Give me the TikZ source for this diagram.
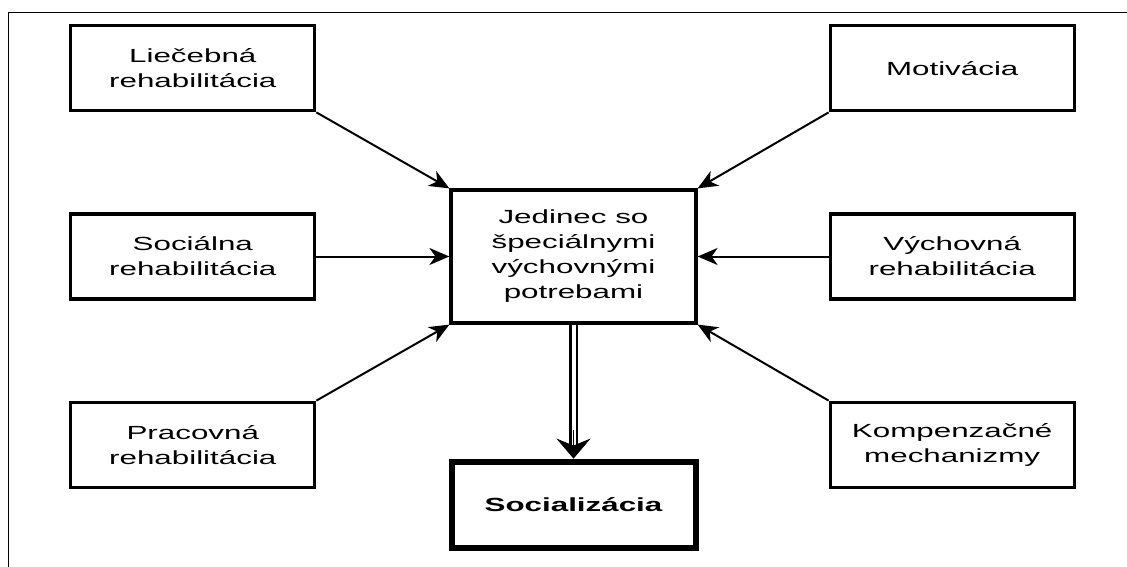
\documentclass[tikz,border=0pt]{standalone}
\usepackage{fontspec}
\setmainfont[FakeStretch=1.65]{Liberation Sans}
\usetikzlibrary{arrows.meta,positioning}

\begin{document}
\begin{tikzpicture}[x=1pt, y=1pt, node distance=133pt, auto,
    box/.style={draw, line width=3.2pt, minimum width=244pt, minimum height=85pt,
        align=center, font=\fontsize{19}{25}\selectfont},
    feed/.style={-{Stealth[length=20pt, width=17pt, inset=6pt]}, line width=2pt}]
    \useasboundingbox (0,0) rectangle (1127,-567);
    \draw[line width=1.4pt] (8.5,-567) -- (8.5,-12.5) -- (1127,-12.5);

    	\node[box, minimum width=245pt, minimum height=133pt] (jedinec) at (573.5,-256.5)
    	    {Jedinec so\\špeciálnymi\\výchovnými\\potrebami};
    	\node[box, left=of jedinec] (socialna) {Sociálna\\rehabilitácia};
    	\node[box, above=100pt of socialna] (liecebna) {Liečebná\\rehabilitácia};
    	\node[box, below=100pt of socialna] (pracovna) {Pracovná\\rehabilitácia};
    	\node[box, right=131pt of jedinec] (vychovna) {Výchovná\\rehabilitácia};
    	\node[box, above=100pt of vychovna] (motivacia) {Motivácia};
    	\node[box, below=100pt of vychovna] (kompenz) {Kompenzačné\\mechanizmy};
    	\node[box, line width=6pt, minimum width=244pt, minimum height=86pt,
    	    below=134pt of jedinec, font=\fontsize{19}{25}\selectfont\bfseries] (soc) {Socializácia};
    	
    	\path [feed]
    		(liecebna.south east) edge (jedinec.north west)
    		(socialna) edge (jedinec)
    		(pracovna.north east) edge (jedinec.south west)
    		(motivacia.south west) edge (jedinec.north east)
    		(vychovna) edge (jedinec)
    		(kompenz.north west) edge (jedinec.south east)
    	;
    	% double shaft first, the head on top of it
    	\draw[double, double distance=4pt, line width=2.5pt, shorten >=13pt] (jedinec) -- (soc);
    	\draw[line width=0.6pt, shorten <=105pt,
    	    -{Stealth[length=20pt, width=34pt, inset=7pt]}] (jedinec) -- (soc);
    \end{tikzpicture}
\end{document}
